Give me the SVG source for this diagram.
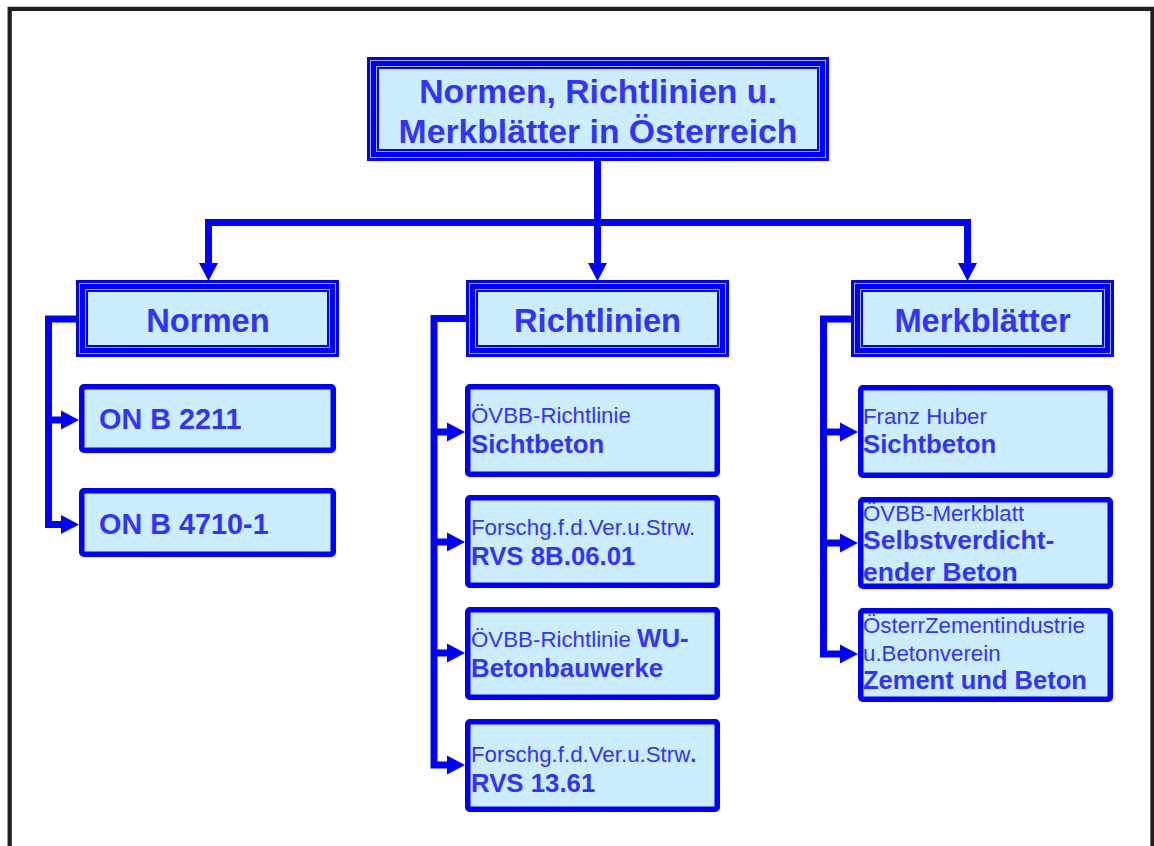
<svg xmlns="http://www.w3.org/2000/svg" width="1154" height="846" viewBox="0 0 1154 846">
<style>
.frame{fill:none;stroke:#231F20;stroke-width:4.3}
.conn{fill:none;stroke:#0000FF;stroke-width:7;stroke-linejoin:miter;stroke-linecap:butt}
.head{fill:#0000FF}
.outer{fill:#0000FF}
.thin{fill:none;stroke:#A8B0FF;stroke-width:1}
.inner{fill:#CCECFF}
.box{fill:#CCECFF;stroke:#0000FF;stroke-width:5.5}
text{font-family:"Liberation Sans",Arial,sans-serif;fill:#3333FF}
.t1{font-size:33.7px;font-weight:bold;text-anchor:middle}
.t2{font-size:32.7px;font-weight:bold;text-anchor:middle}
.n{font-size:28.8px;font-weight:bold}
.r{font-size:22.3px}
.b{font-size:25.8px;font-weight:bold}
</style>
<rect width="1154" height="846" fill="#FFFFFF"/>
<path class="frame" d="M9.7 846 V8.8 H1152.5 V846"/>

<g id="connectors">
  <path class="conn" d="M597.5 161 V264 M208.5 264 V222.5 H967.5 V264"/>
  <path class="head" d="M199 263 H218 L208.5 281 Z M588 263 H607 L597.5 281 Z M958 263 H977 L967.5 281 Z"/>
  <path class="conn" d="M77 319 H48.5 V524.5 H62 M48.5 420 H62"/>
  <path class="head" d="M61 410.5 V429.5 L79 420 Z M61 515 V534 L79 524.5 Z"/>
  <path class="conn" d="M467 318.5 H434 V765 H448 M434 432 H448 M434 542 H448 M434 653 H448"/>
  <path class="head" d="M447 422.5 V441.5 L465 432 Z M447 532.5 V551.5 L465 542 Z M447 643.5 V662.5 L465 653 Z M447 755.5 V774.5 L465 765 Z"/>
  <path class="conn" d="M852 319 H823.5 V654 H841 M823.5 432 H841 M823.5 543 H841"/>
  <path class="head" d="M840 422.5 V441.5 L858 432 Z M840 533.5 V552.5 L858 543 Z M840 644.5 V663.5 L858 654 Z"/>
</g>

<g id="root">
  <rect class="outer" x="367" y="57" width="462" height="104"/>
  <rect class="thin" x="370.5" y="60.5" width="455" height="97"/>
  <rect class="thin" x="376.5" y="66.5" width="443" height="85"/>
  <rect class="inner" x="379" y="69" width="438" height="80"/>
  <text class="t1" x="598" y="103">Normen, Richtlinien u.</text>
  <text class="t1" x="598" y="143">Merkblätter in Österreich</text>
</g>

<g id="normen">
  <rect class="outer" x="76" y="280" width="263" height="77"/>
  <rect class="thin" x="79.5" y="283.5" width="256" height="70"/>
  <rect class="thin" x="85.5" y="289.5" width="244" height="58"/>
  <rect class="inner" x="88" y="292" width="239" height="53"/>
  <text class="t2" x="208" y="332">Normen</text>
</g>
<g id="richtlinien">
  <rect class="outer" x="466" y="280" width="263" height="77"/>
  <rect class="thin" x="469.5" y="283.5" width="256" height="70"/>
  <rect class="thin" x="475.5" y="289.5" width="244" height="58"/>
  <rect class="inner" x="478" y="292" width="239" height="53"/>
  <text class="t2" x="597.5" y="332">Richtlinien</text>
</g>
<g id="merkblaetter">
  <rect class="outer" x="851" y="280" width="263" height="77"/>
  <rect class="thin" x="854.5" y="283.5" width="256" height="70"/>
  <rect class="thin" x="860.5" y="289.5" width="244" height="58"/>
  <rect class="inner" x="863" y="292" width="239" height="53"/>
  <text class="t2" x="982.5" y="332">Merkblätter</text>
</g>

<g id="onb2211">
  <rect class="box" x="81.75" y="386.75" width="251.5" height="63.5" rx="2"/>
  <text class="n" x="99" y="429">ON B 2211</text>
</g>
<g id="onb4710">
  <rect class="box" x="81.75" y="490.75" width="251.5" height="63.5" rx="2"/>
  <text class="n" x="99" y="534">ON B 4710-1</text>
</g>

<g id="rl-sichtbeton">
  <rect class="box" x="467.75" y="386.75" width="249.5" height="87.5" rx="2"/>
  <text class="r" x="471" y="423">ÖVBB-Richtlinie</text>
  <text class="b" x="471" y="453">Sichtbeton</text>
</g>
<g id="rl-rvs8b">
  <rect class="box" x="467.75" y="497.75" width="249.5" height="87.5" rx="2"/>
  <text class="r" x="471" y="535">Forschg.f.d.Ver.u.Strw.</text>
  <text class="b" x="471" y="565">RVS 8B.06.01</text>
</g>
<g id="rl-wu">
  <rect class="box" x="467.75" y="609.75" width="249.5" height="87.5" rx="2"/>
  <text class="r" x="471" y="647">ÖVBB-Richtlinie <tspan class="b">WU-</tspan></text>
  <text class="b" x="471" y="677">Betonbauwerke</text>
</g>
<g id="rl-rvs13">
  <rect class="box" x="467.75" y="721.75" width="249.5" height="87.5" rx="2"/>
  <text class="r" x="471" y="762">Forschg.f.d.Ver.u.Strw<tspan font-weight="bold">.</tspan></text>
  <text class="b" x="471" y="792">RVS 13.61</text>
</g>

<g id="mb-huber">
  <rect class="box" x="860.75" y="387.75" width="249.5" height="87.5" rx="2"/>
  <text class="r" x="863" y="424">Franz Huber</text>
  <text class="b" x="863" y="453">Sichtbeton</text>
</g>
<g id="mb-scc">
  <rect class="box" x="860.75" y="499.75" width="249.5" height="86.5" rx="2"/>
  <text class="r" x="863" y="521">ÖVBB-Merkblatt</text>
  <text class="b" x="863" y="549" style="font-size:26.5px">Selbstverdicht-</text>
  <text class="b" x="863" y="581" style="font-size:26.5px">ender Beton</text>
</g>
<g id="mb-zement">
  <rect class="box" x="860.75" y="610.75" width="249.5" height="88.5" rx="2"/>
  <text class="r" x="863" y="633">ÖsterrZementindustrie</text>
  <text class="r" x="863" y="661">u.Betonverein</text>
  <text class="b" x="863" y="689" style="font-size:25.5px">Zement und Beton</text>
</g>
</svg>
